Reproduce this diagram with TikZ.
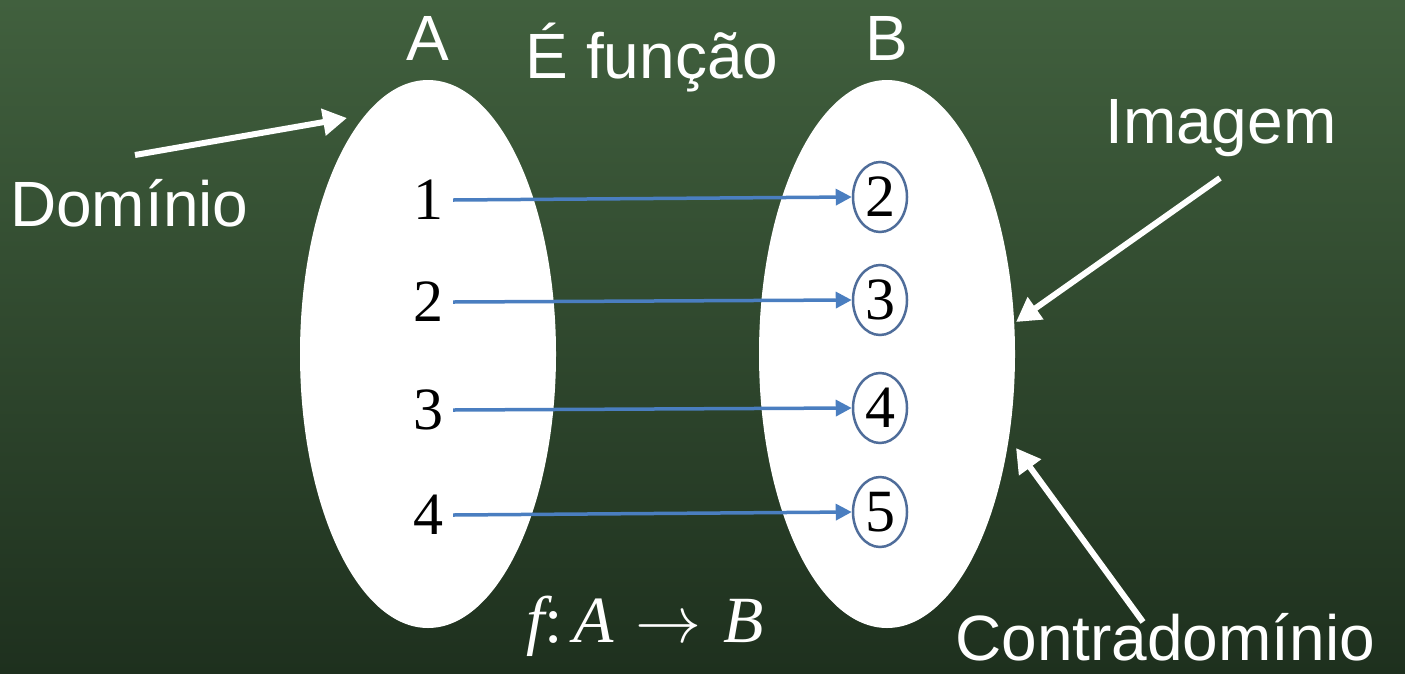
\RequirePackage{fix-cm}
\documentclass[tikz,border=0pt]{standalone}
\usepackage{fontspec}
\setmainfont{Liberation Sans}
\newfontfamily\numfont{Liberation Serif}
\usetikzlibrary{shapes.geometric,arrows.meta}
\definecolor{bgtop}{HTML}{41603E}
\definecolor{bgmid}{HTML}{3A5737}
\definecolor{bgbot}{HTML}{1E301E}
\definecolor{arrowblue}{HTML}{4A7EC0}
\definecolor{ringblue}{HTML}{4F6D9A}
\begin{document}
\begin{tikzpicture}[x=1pt,y=-1pt,
  lbl/.style={text=white,font=\fontsize{64}{70}\selectfont,inner sep=0pt},
  setell/.style={ellipse,fill=white,minimum width=256pt,minimum height=548pt,inner sep=0pt},
  num/.style={font=\numfont\fontsize{60}{66}\selectfont,inner sep=0pt},
  ring/.style={ellipse,draw=ringblue,line width=2.5pt,minimum width=54pt,minimum height=70pt,inner sep=0pt,font=\numfont\fontsize{60}{66}\selectfont},
  maparrow/.style={draw=arrowblue,line width=3.5pt,-{Triangle[length=16pt,width=16pt]}},
  pointer/.style={draw=white,line width=6pt,-{Triangle[length=24pt,width=26pt]}}]
  \shade[top color=bgtop,middle color=bgmid,bottom color=bgbot] (0,0) rectangle (1405,673);
  \useasboundingbox (0,0) rectangle (1405,673);
  % sets
  \node[setell] (A) at (428,354) {};
  \node[setell] (B) at (887,354) {};
  % titles
  \node[lbl,anchor=base] (tA) at (428,60) {A};
  \node[lbl,anchor=base] (tB) at (887,60) {B};
  \node[lbl,anchor=base] (title) at (652,78) {É função};
  % domain elements
  \node[num] (a1) at (428,200) {1};
  \node[num] (a2) at (428,302) {2};
  \node[num] (a3) at (428,410) {3};
  \node[num] (a4) at (428,515) {4};
  % codomain elements
  \node[ring] (b2) at (880,197) {2};
  \node[ring] (b3) at (880,300) {3};
  \node[ring] (b4) at (880,408) {4};
  \node[ring] (b5) at (880,512) {5};
  % mapping arrows
  \draw[maparrow] ([xshift=10pt]a1.east) -- (b2.west);
  \draw[maparrow] ([xshift=10pt]a2.east) -- (b3.west);
  \draw[maparrow] ([xshift=10pt]a3.east) -- (b4.west);
  \draw[maparrow] ([xshift=10pt]a4.east) -- (b5.west);
  % side labels
  \node[lbl,anchor=base west] (dom) at (10,226) {Domínio};
  \node[lbl,anchor=base west] (img) at (1105,143) {Imagem};
  \node[lbl,anchor=base west] (cod) at (955,660) {Contradomínio};
  \coordinate (domtail) at (135,155);
  \coordinate (domtip) at (347,118);
  \coordinate (imgtail) at (1220,178);
  \coordinate (imgtip) at (1016,322);
  \coordinate (codtail) at (1143,622);
  \coordinate (codtip) at (1016,448);
  \draw[pointer] (domtail) -- (domtip);
  \draw[pointer] (imgtail) -- (imgtip);
  \draw[pointer] (codtail) -- (codtip);
  % function notation
  \node[text=white,font=\numfont\fontsize{66}{72}\selectfont,inner sep=0pt,anchor=base] (fab) at (645,642) {\itshape f\upshape:\hspace{10pt}\itshape A\upshape\hspace{22pt}$\rightarrow$\hspace{22pt}\itshape B};
\end{tikzpicture}
\end{document}
